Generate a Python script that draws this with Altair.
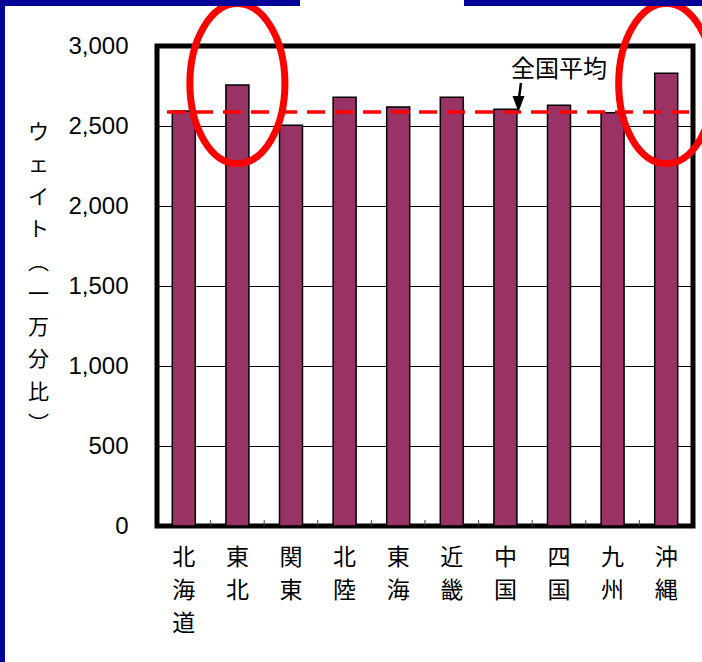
import altair as alt
import pandas as pd

regions = ["北海道", "東北", "関東", "北陸", "東海", "近畿", "中国", "四国", "九州", "沖縄"]
weights = [2593, 2756, 2505, 2679, 2618, 2679, 2604, 2630, 2583, 2829]
national_avg = 2587
highlight_regions = ["東北", "沖縄"]
highlight_center = [2765, 2765]
y_ticks = [0, 500, 1000, 1500, 2000, 2500, 3000]
y_title = ["ウ", "ェ", "イ", "ト", "︵", "一", "万", "分", "比", "︶"]
avg_label = "全国平均"

df = pd.DataFrame({"region": regions, "weight": weights})

xscale = alt.Scale(domain=regions, paddingInner=0, paddingOuter=0)
yscale = alt.Scale(domain=[0, 3000], nice=False)

x_enc = alt.X(
    "region:N",
    scale=xscale,
    sort=regions,
    axis=alt.Axis(
        title=None,
        labelAngle=0,
        labelExpr="split(datum.label, '')",
        labelFont="Noto Sans CJK JP",
        labelFontSize=23,
        labelLineHeight=33,
        labelColor="black",
        labelPadding=20,
        labelBaseline="top",
        ticks=False,
        domain=False,
    ),
)

bars = alt.Chart(df).mark_bar(size=23, color="#993366", stroke="black", strokeWidth=1.5).encode(
    x=x_enc,
    y=alt.Y(
        "weight:Q",
        scale=yscale,
        axis=alt.Axis(
            values=y_ticks,
            format=",d",
            grid=True,
            gridColor="black",
            gridWidth=1,
            gridOpacity=1,
            domain=False,
            ticks=False,
            labelFont="Liberation Sans",
            labelFontSize=24,
            labelColor="black",
            labelPadding=29,
            title=y_title,
            titleAngle=0,
            titleFont="Noto Sans CJK JP",
            titleFontSize=21,
            titleFontWeight="normal",
            titleColor="black",
            titleLineHeight=32.5,
            titleAlign="center",
            titleBaseline="top",
            titleX=-119,
            titleY=75,
        ),
    ),
)

ticks = alt.Chart(pd.DataFrame({"region": regions[1:]})).mark_rule(color="#444444", strokeWidth=1).encode(
    x=alt.X("region:N", scale=xscale, sort=regions, bandPosition=0),
    y=alt.value(480),
    y2=alt.value(474),
)

avg_line = alt.Chart(pd.DataFrame({"avg": [national_avg]})).mark_rule(
    color="#ff0000", strokeWidth=3.5, strokeDash=[18, 10]
).encode(
    y=alt.Y("avg:Q", scale=yscale),
    x=alt.value(10),
    x2=alt.value(533),
)

ann_text = alt.Chart(pd.DataFrame({"t": [avg_label]})).mark_text(
    font="Noto Sans CJK JP", fontSize=24, color="black", align="center", baseline="middle"
).encode(text="t:N", x=alt.value(402), y=alt.value(24))

arrow_shaft = alt.Chart(pd.DataFrame({"a": [0]})).mark_rule(color="black", strokeWidth=2.5).encode(
    x=alt.value(364), x2=alt.value(362), y=alt.value(37), y2=alt.value(52)
)
arrow_head = alt.Chart(pd.DataFrame({"a": [0]})).mark_point(
    shape="M -0.75 -1 L 0.75 -1 L 0 1 Z", filled=True, color="black", opacity=1, size=256
).encode(x=alt.value(361.5), y=alt.value(58))

ellipse_path = "M -0.594 0 A 0.594 1 0 1 1 0.594 0 A 0.594 1 0 1 1 -0.594 0 Z"
ellipses = alt.Chart(pd.DataFrame({"region": highlight_regions, "c": highlight_center})).mark_point(
    shape=ellipse_path, filled=False, stroke="#ff0000", strokeWidth=7, size=25600, opacity=1
).encode(
    x=alt.X("region:N", scale=xscale, sort=regions),
    y=alt.Y("c:Q", scale=yscale),
)

one = pd.DataFrame({"a": [0]})
blue = "#000099"
border_left = alt.Chart(one).mark_rect(color=blue).encode(
    x=alt.value(-157), x2=alt.value(-152), y=alt.value(-46), y2=alt.value(616)
)
border_top1 = alt.Chart(one).mark_rect(color=blue).encode(
    x=alt.value(-157), x2=alt.value(143), y=alt.value(-46), y2=alt.value(-40)
)
border_top2 = alt.Chart(one).mark_rect(color=blue).encode(
    x=alt.value(307), x2=alt.value(545), y=alt.value(-46), y2=alt.value(-40)
)

chart = alt.layer(
    bars, ticks, avg_line, ann_text, arrow_shaft, arrow_head, ellipses,
    border_left, border_top1, border_top2,
).properties(
    width=536,
    height=480,
    autosize=alt.AutoSizeParams(type="none"),
    padding={"left": 157, "top": 46, "right": 9, "bottom": 136},
    background="white",
).configure_view(
    stroke="black", strokeWidth=5
)

chart.save("out.html", embed_options={"renderer": "svg", "actions": False})
